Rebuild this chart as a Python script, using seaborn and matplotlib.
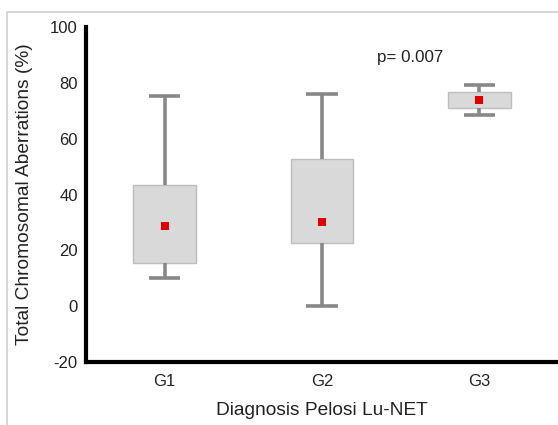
import numpy as np
import pandas as pd
import matplotlib
matplotlib.use("Agg")
import matplotlib.pyplot as plt
from matplotlib.patches import Rectangle
import seaborn as sns

# Five-number summaries per grade (min, Q1, median, Q3, max) and group means
groups = ["G1", "G2", "G3"]
mins = [10.1, 0.0, 68.5]
q1s = [15.5, 22.5, 71.0]
q3s = [43.4, 52.7, 76.6]
maxs = [75.4, 75.9, 79.1]
means = [28.7, 30.2, 73.7]
p_text = "p= 0.007"

rows = []
for g, lo, a, m, b, hi in zip(groups, mins, q1s, means, q3s, maxs):
    for v in (lo, a, m, b, hi):
        rows.append({"grade": g, "value": v})
df = pd.DataFrame(rows)

sns.set_theme(style="white")
plt.rcParams["font.family"] = ["Liberation Sans", "DejaVu Sans"]
plt.rcParams["axes.unicode_minus"] = False

fig = plt.figure(figsize=(5.58, 4.25), dpi=100)
ax = fig.add_axes([86 / 558, 1 - 362 / 425, 1 - 86 / 558, (362 - 27) / 425])

# light frame around the figure
fig.patches.append(Rectangle((7 / 558, -0.1), 1.2, 1 - 12 / 425 + 0.1,
                             transform=fig.transFigure, fill=False,
                             edgecolor="#cfcfcf", linewidth=1.2, zorder=0))

sns.boxplot(data=df, x="grade", y="value", order=groups, ax=ax,
            width=0.4, whis=np.inf, color="#d9d9d9", linecolor="#bdbdbd",
            linewidth=1.0,
            whiskerprops=dict(color="#888888", linewidth=2.6, solid_capstyle="butt"),
            capprops=dict(color="#888888", linewidth=2.6, solid_capstyle="butt"),
            medianprops=dict(linewidth=0, alpha=0))

sns.stripplot(x=groups, y=means, order=groups, ax=ax, jitter=False,
              marker="s", color="#e00000", size=5.5, linewidth=0, zorder=5)

ax.set_xlim(-0.5, 2.5)
ax.set_ylim(-20, 100)
ax.set_yticks(np.arange(-20, 101, 20))

for s in ("top", "right"):
    ax.spines[s].set_visible(False)
for s in ("left", "bottom"):
    ax.spines[s].set_color("black")
    ax.spines[s].set_linewidth(3)

ax.tick_params(axis="both", length=2, width=1, color="#333333",
               labelsize=12, colors="#222222", pad=4)
ax.tick_params(axis="x", pad=7)

ax.set_xlabel("Diagnosis Pelosi Lu-NET", fontsize=13.8, color="#222222", labelpad=9)
ax.set_ylabel("Total Chromosomal Aberrations (%)", fontsize=13.8, color="#222222", labelpad=12)

ax.text(1.56, 88.9, p_text, ha="center", va="center", fontsize=12.2, color="#222222")

fig.savefig("out.png", dpi=100)
